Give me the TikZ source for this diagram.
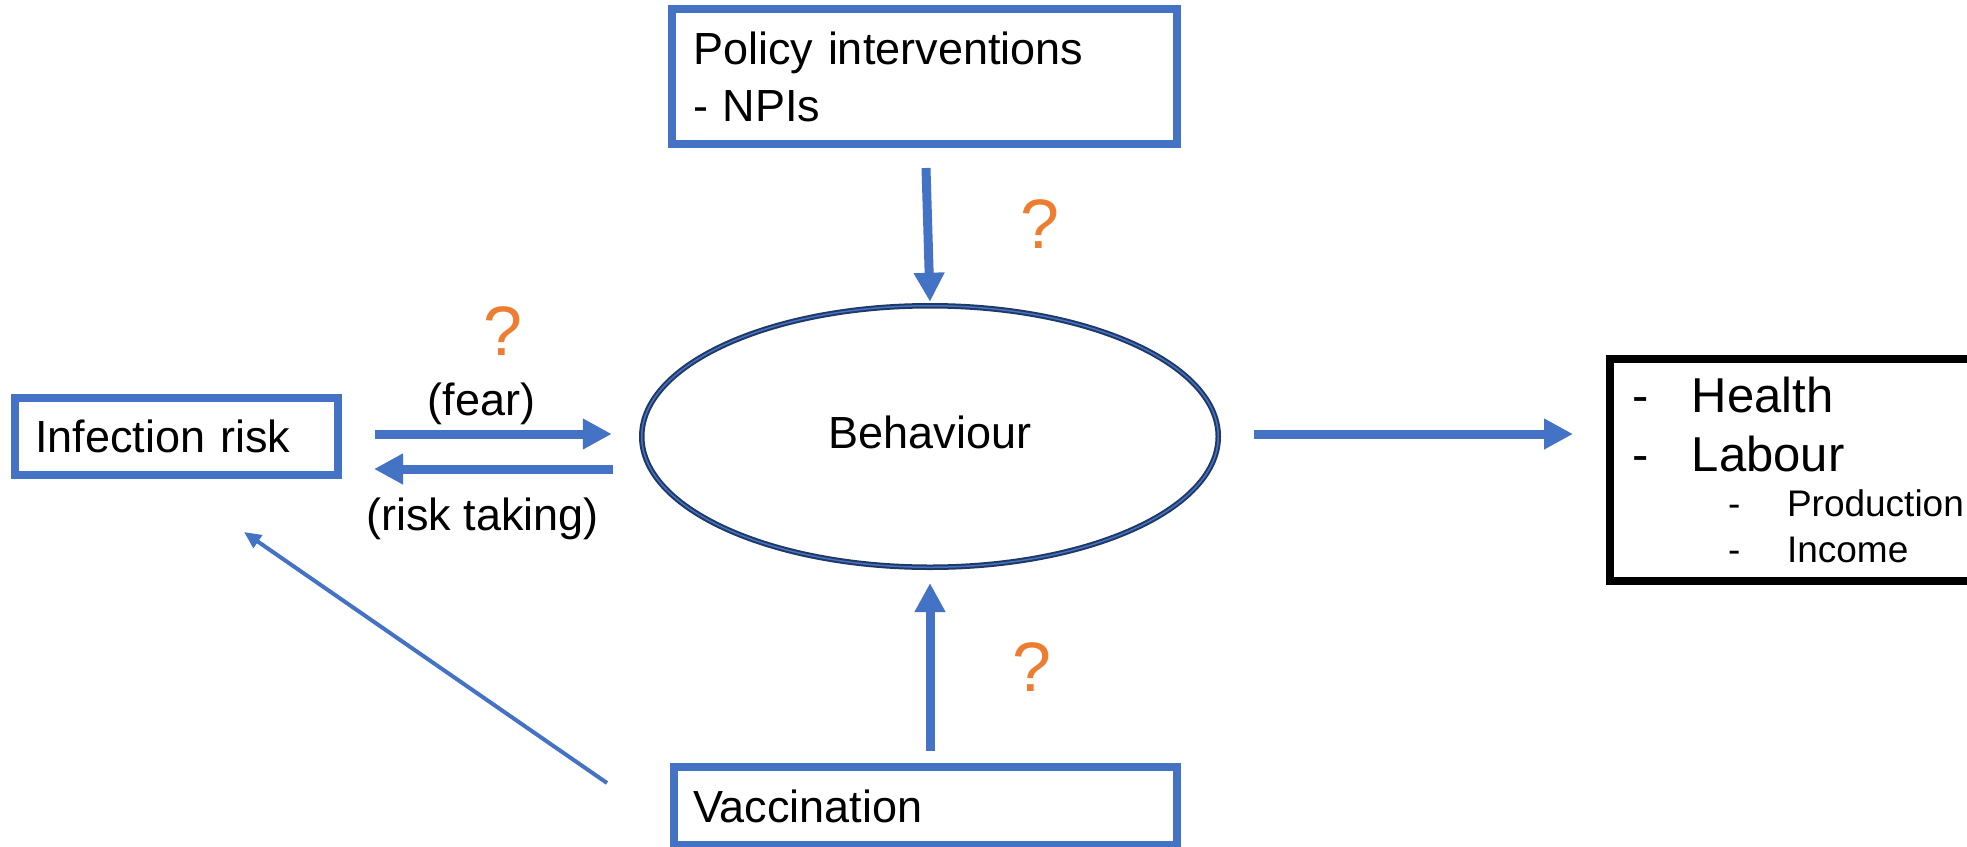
\documentclass[tikz,border=0pt]{standalone}
\usepackage{fontspec}
\setmainfont{Liberation Sans}
\usetikzlibrary{arrows.meta,shapes.geometric}
\definecolor{ofblue}{HTML}{4472C4}
\definecolor{oforange}{HTML}{ED7D31}
\definecolor{ofnavy}{HTML}{1F3864}
\tikzset{
  bluebox/.style={draw=ofblue, line width=8pt, rectangle, inner ysep=0pt, align=left,
    font=\fontsize{45}{57}\selectfont},
  blkbox/.style={draw=black, line width=8pt, rectangle, inner sep=0pt},
  behnode/.style={ellipse, draw=ofnavy, double=ofblue, line width=2pt, double distance=1.5pt,
    fill=white, inner sep=0pt, minimum width=576.5pt, minimum height=261.5pt,
    text height=33pt, text depth=10pt, font=\fontsize{45}{54}\selectfont},
  fatarrow/.style={draw=ofblue, line width=9pt, -{Triangle[length=29pt,width=29pt]}},
  thinarrow/.style={draw=ofblue, line width=4pt, -{Triangle[length=17pt,width=15pt]}},
  qmark/.style={text=oforange, font=\fontsize{70}{80}\selectfont, inner sep=0pt},
  lbl/.style={font=\fontsize{45}{54}\selectfont, inner sep=0pt},
}
\newcommand{\bigitem}[1]{\hbox to 480pt{\hskip22pt\raisebox{0pt}[0pt][0pt]{\fontsize{49}{58}\selectfont\makebox[60pt][l]{-}#1}\hfil}}
\newcommand{\smallitem}[1]{\hbox to 480pt{\hskip118pt\raisebox{0pt}[0pt][0pt]{\fontsize{37}{44}\selectfont\makebox[59pt][l]{-}#1}\hfil}}
\begin{document}
\begin{tikzpicture}[x=1pt,y=-1pt]
\path[use as bounding box] (0,0) rectangle (1967,846);
\clip (0,0) rectangle (1967,846);

\node[bluebox, minimum width=505pt, minimum height=135pt, text width=463pt, inner xsep=21pt]
  (pol) at (924.5,76.5) {Policy interventions\\- NPIs};
\node[bluebox, minimum height=77pt, text width=283pt, inner xsep=20pt]
  (inf) at (176.5,436.5) {Infection risk};
\node[bluebox, minimum height=78pt, text width=465pt, inner xsep=19pt]
  (vac) at (925.5,806) {Vaccination};
\node[behnode] (beh) at (930,436.5) {Behaviour};
\node[blkbox, anchor=north west] (out) at (1606,355) {\vbox to 222pt{\offinterlineskip
  \vskip53pt \bigitem{Health}
  \vskip59pt \bigitem{Labour}
  \vskip45pt \smallitem{Production}
  \vskip46pt \smallitem{Income}
  \vfil}};

\draw[fatarrow] ([xshift=1.5pt,yshift=-20pt]pol.south) -- ([yshift=3pt]beh.north);
\draw[fatarrow] ([xshift=33pt,yshift=2.5pt]inf.east) -- ([xshift=-29pt,yshift=2.5pt]beh.west)
  node[lbl, pos=0.45, anchor=base, yshift=19pt] (fearlbl) {(fear)};
\draw[fatarrow] ([xshift=-28pt,yshift=-32.5pt]beh.west) -- ([xshift=32pt,yshift=-32.5pt]inf.east)
  node[lbl, pos=0.545, anchor=base, yshift=-61pt] (risklbl) {(risk taking)};
\coordinate (oa1) at ([xshift=35pt,yshift=2.5pt]beh.east);
\draw[fatarrow, shorten >=33pt] (oa1) -- (oa1 -| out.west);
\draw[fatarrow] ([xshift=4.5pt,yshift=12pt]vac.north) -- ([yshift=-14.75pt]beh.south);
\draw[thinarrow] ([xshift=-63pt,yshift=23pt]vac.west) -- ([xshift=67.5pt,yshift=-53pt]inf.south);

\node[qmark] (q1) at (1040,224) {?};
\node[qmark] (q2) at (503,331) {?};
\node[qmark] (q3) at (1032,667) {?};
\end{tikzpicture}
\end{document}
